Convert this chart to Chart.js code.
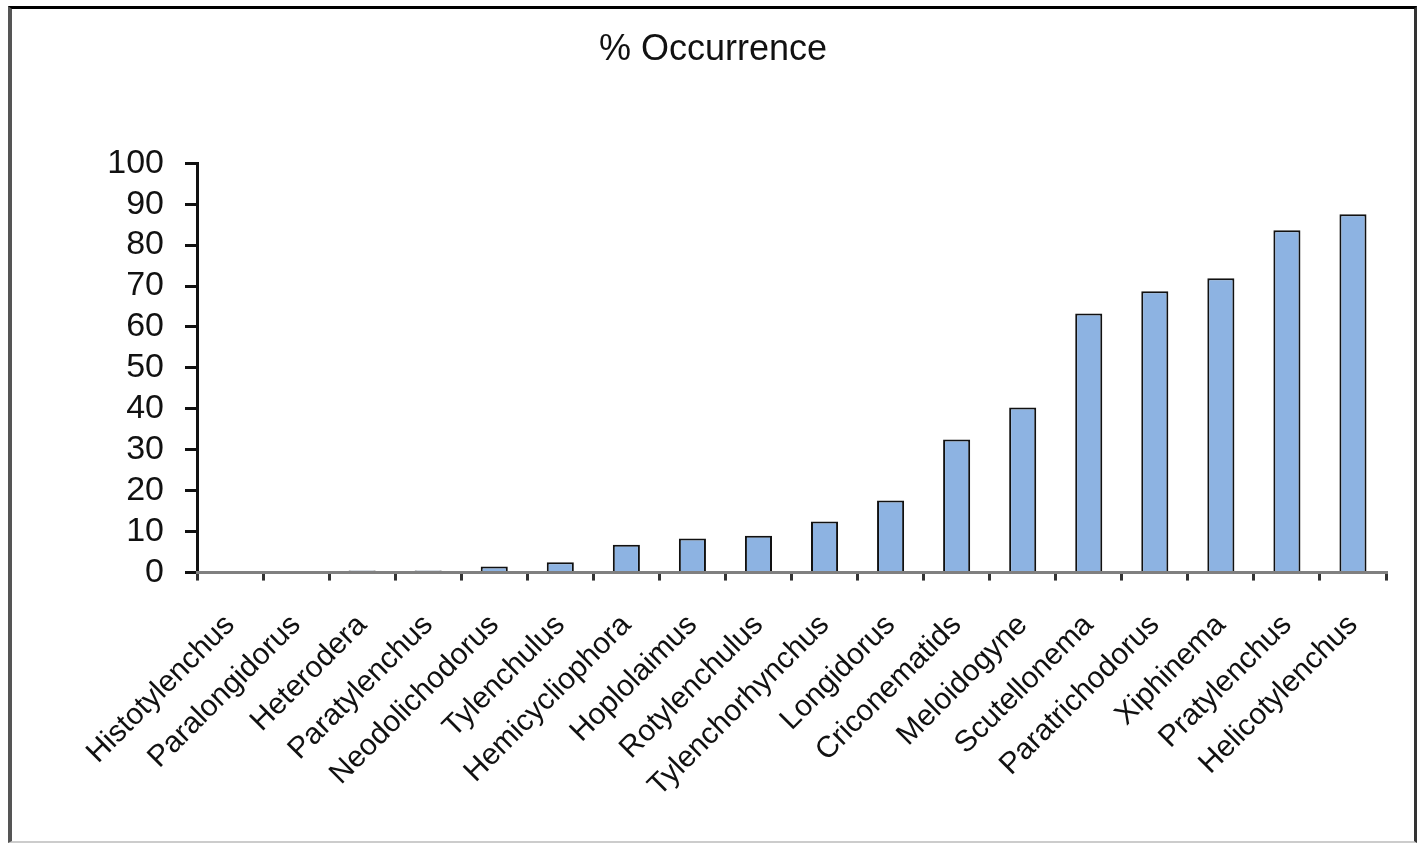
<!DOCTYPE html>
<html>
<head>
<meta charset="utf-8">
<script src="https://cdn.jsdelivr.net/npm/chart.js@4.4.1/dist/chart.umd.min.js"></script>
<style>
  html, body { margin: 0; padding: 0; background: #fff; }
  #wrap { position: relative; width: 1418px; height: 845px; }
  #frame {
    position: absolute; left: 8px; top: 6px; width: 1402px; height: 832px;
    border-left: 4px solid #555; border-top: 3px solid #000;
    border-right: 3px solid #333; border-bottom: 2px solid #ccc;
    pointer-events: none;
  }
</style>
</head>
<body>
<div id="wrap">
  <canvas id="grafica" width="1418" height="845"></canvas>
  <div id="frame"></div>
</div>
<script>
// Datos
const generos = [
  "Histotylenchus", "Paralongidorus", "Heterodera", "Paratylenchus",
  "Neodolichodorus", "Tylenchulus", "Hemicycliophora", "Hoplolaimus",
  "Rotylenchulus", "Tylenchorhynchus", "Longidorus", "Criconematids",
  "Meloidogyne", "Scutellonema", "Paratrichodorus", "Xiphinema",
  "Pratylenchus", "Helicotylenchus"
];
const ocurrencia = [
  0, 0, 0.5, 0.5, 1.5, 2.5, 6.8, 8.3, 9, 12.5, 17.6, 32.5,
  40.3, 63.3, 68.7, 71.9, 83.6, 87.5
];
const titulo = "% Occurrence";
const ejeY = { min: 0, max: 100, paso: 10 };

Chart.defaults.font.family = "'Liberation Sans', Arial, sans-serif";
Chart.defaults.color = '#111';

const ctx = document.getElementById('grafica').getContext('2d');
new Chart(ctx, {
  type: 'bar',
  data: {
    labels: generos,
    datasets: [{
      data: ocurrencia,
      backgroundColor: '#8db3e2',
      borderColor: '#111',
      borderWidth: 2,
      barPercentage: 0.41,
      categoryPercentage: 1
    }]
  },
  options: {
    responsive: false,
    animation: false,
    layout: { padding: { left: 40, right: 32, bottom: 14 } },
    plugins: {
      legend: { display: false },
      tooltip: { enabled: false },
      title: {
        display: true,
        text: titulo,
        color: '#111',
        font: { size: 36, weight: 'normal' },
        padding: { top: 28, bottom: 92 }
      }
    },
    scales: {
      y: {
        min: ejeY.min,
        max: ejeY.max,
        afterFit: (eje) => { eje.width = 157; },
        ticks: { stepSize: ejeY.paso, autoSkip: false, padding: 21, font: { size: 34 }, color: '#111' },
        grid: { drawOnChartArea: false, drawTicks: true, tickLength: 12, color: '#111', lineWidth: 3 },
        border: { display: true, color: '#111', width: 3 }
      },
      x: {
        ticks: { minRotation: 45, maxRotation: 45, autoSkip: false, font: { size: 30 }, color: '#111', padding: 27 },
        grid: { offset: true, drawOnChartArea: false, drawTicks: true, tickLength: 8, color: '#333', lineWidth: 3 },
        border: { display: true, color: '#808080', width: 3 }
      }
    }
  }
});
</script>
</body>
</html>
